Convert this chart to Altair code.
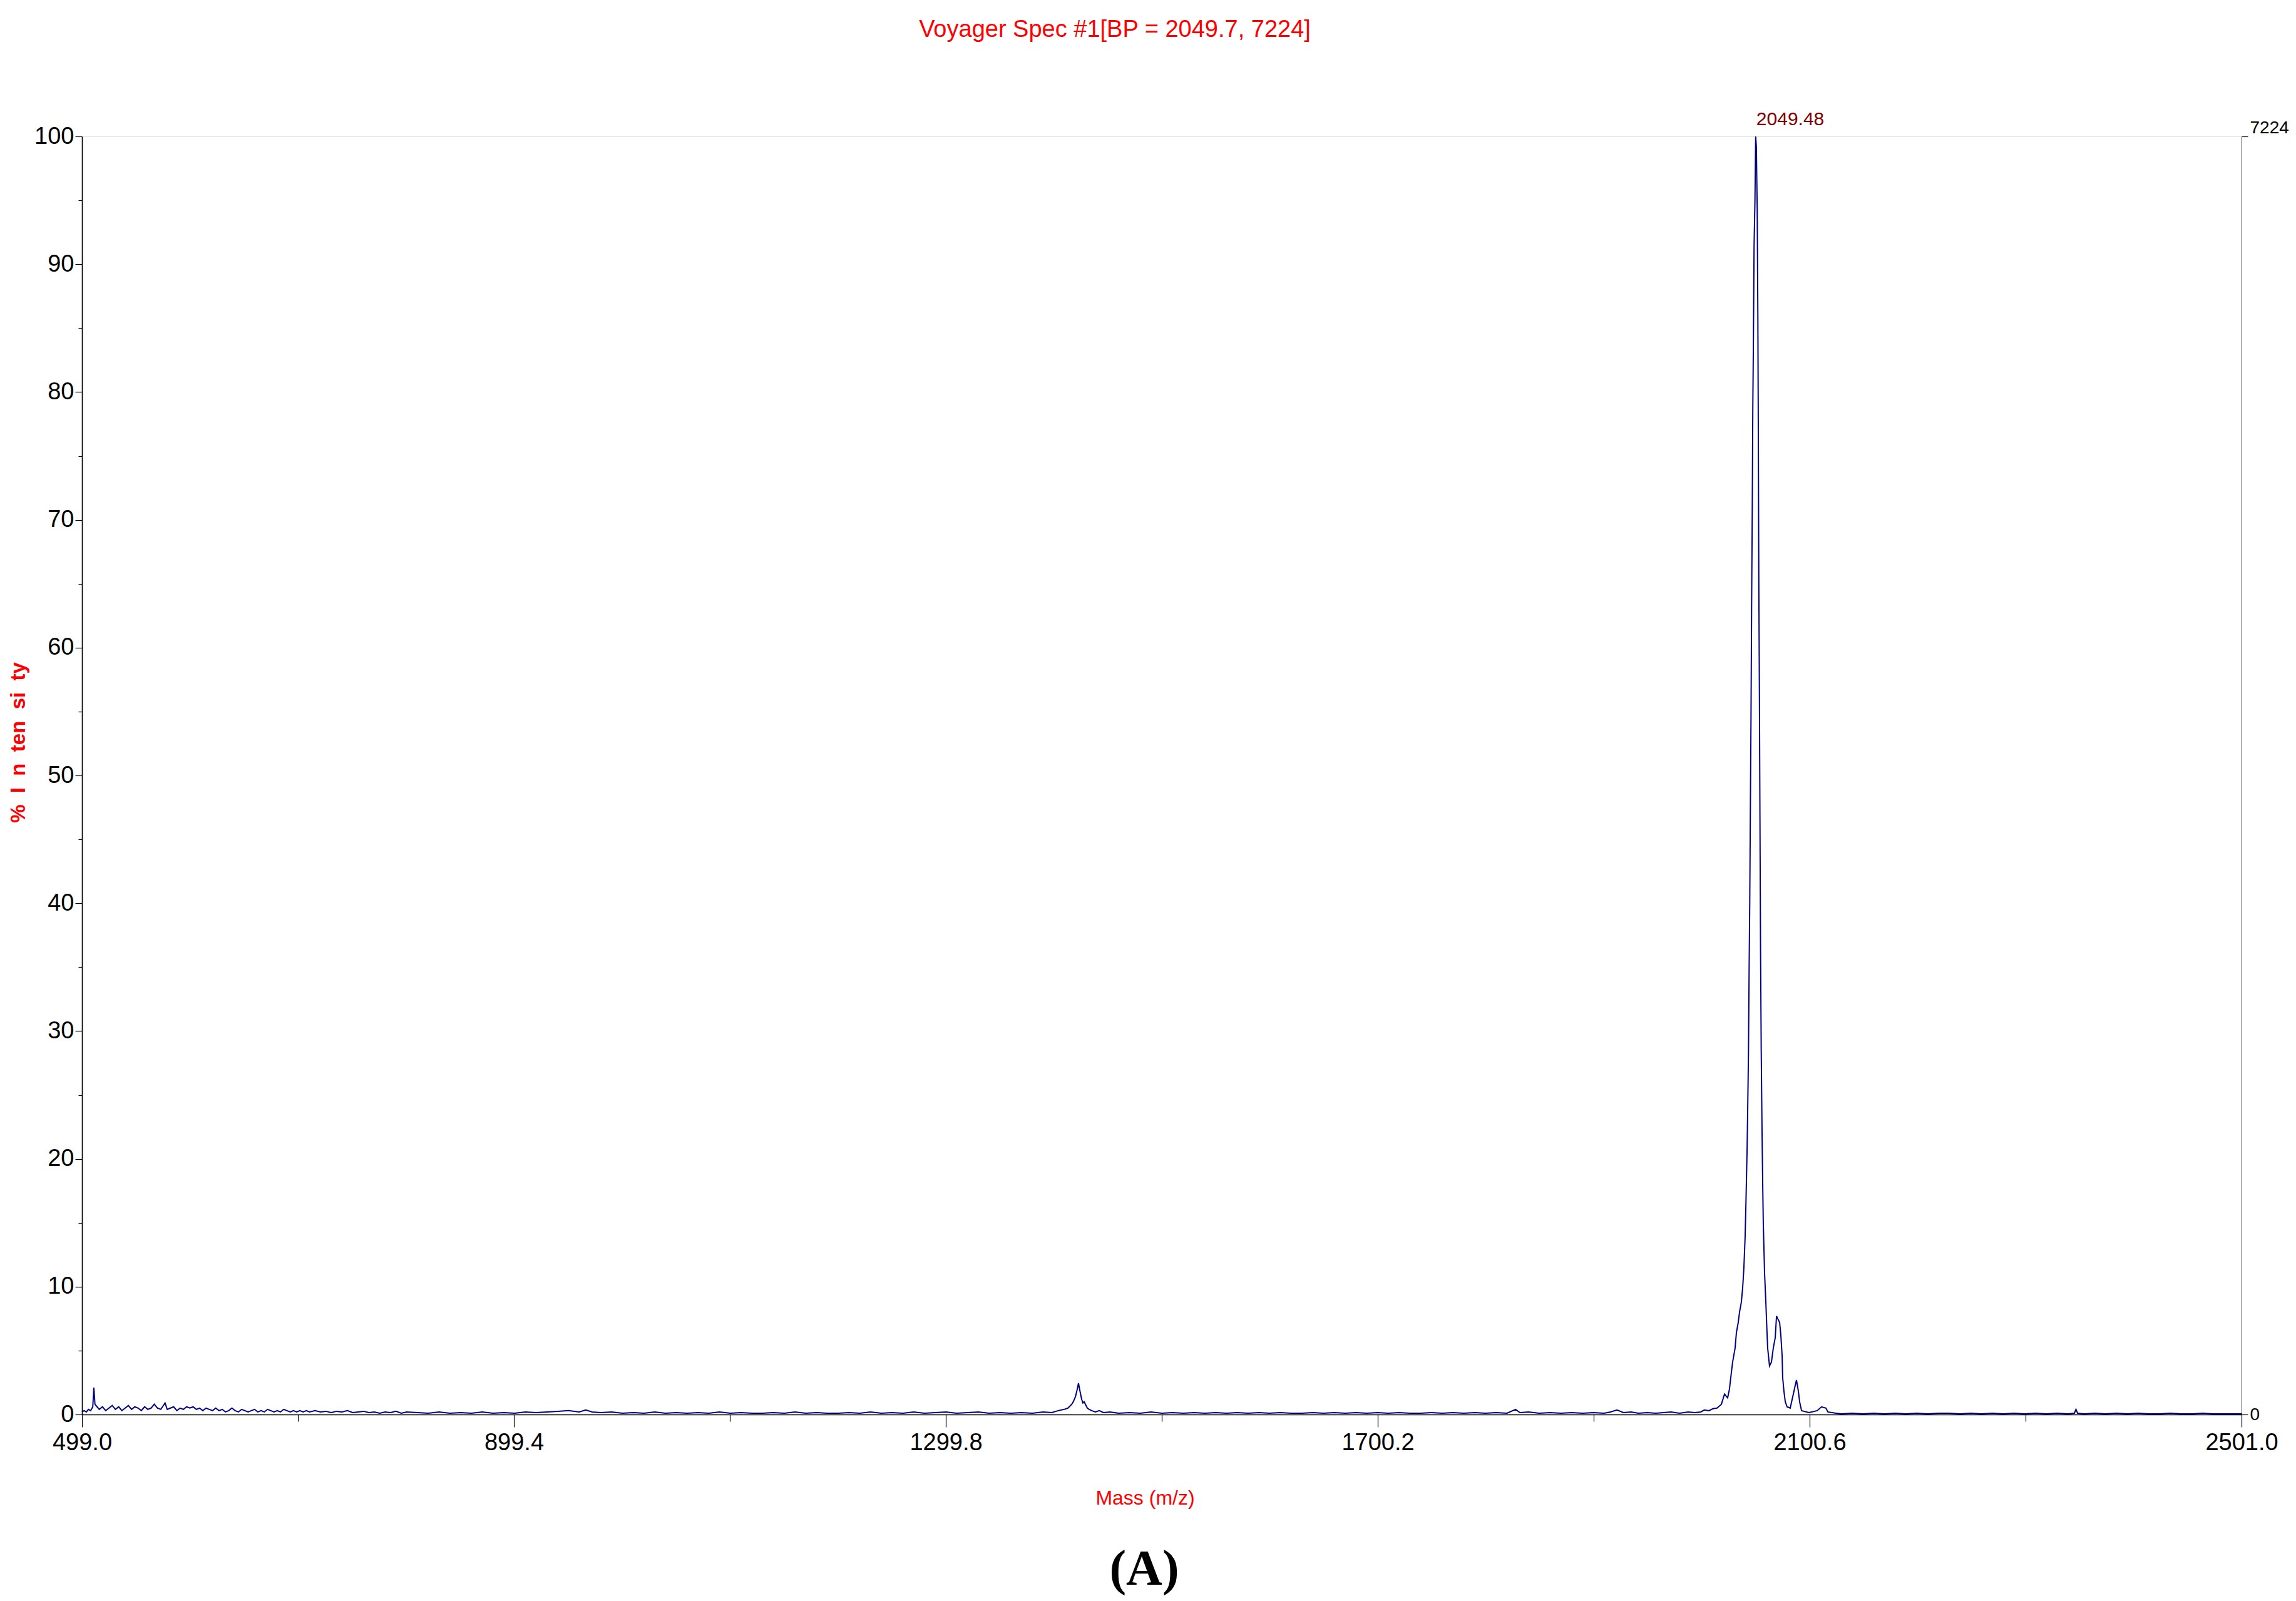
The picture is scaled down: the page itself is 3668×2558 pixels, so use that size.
import altair as alt
import pandas as pd

# ---------------- text ----------------
title_text = "Voyager Spec #1[BP = 2049.7, 7224]"
x_title = "Mass (m/z)"
y_title = "% \u00a0I \u00a0n \u00a0ten \u00a0si \u00a0ty"
panel_tag = "(A)"

# ---------------- axes ----------------
x_ticks = [499.0, 699.2, 899.4, 1099.6, 1299.8, 1500.0, 1700.2, 1900.4, 2100.6, 2300.8, 2501.0]
y_ticks = [0, 5, 10, 15, 20, 25, 30, 35, 40, 45, 50, 55, 60, 65, 70, 75, 80, 85, 90, 95, 100]
count_ticks = [0, 7224]

# ---------------- base peak ----------------
base_peak_mass = [2050.6]
base_peak_counts = [7224]
base_peak_label = ["2049.48"]

# ---------------- spectrum (mass, % intensity) ----------------
low_mass_noise = [
    (499.0, 0.2), (501, 0.3), (503, 0.2), (505, 0.4), (507, 0.3), (509, 0.6), (510, 2.1), (511, 0.8),
    (513, 0.6), (515, 0.4), (518, 0.6), (521, 0.3), (524, 0.5), (527, 0.7), (530, 0.4), (533, 0.6),
    (536, 0.3), (539, 0.5), (542, 0.7), (545, 0.4), (548, 0.6), (551, 0.5), (554, 0.3), (557, 0.6),
    (560, 0.4), (563, 0.5), (566, 0.8), (569, 0.5), (572, 0.4), (576, 0.9), (578, 0.4), (581, 0.5),
    (584, 0.6), (587, 0.3), (590, 0.5), (593, 0.4), (596, 0.6), (599, 0.5), (602, 0.6), (605, 0.4),
    (608, 0.5), (611, 0.3), (614, 0.5), (617, 0.4), (620, 0.3), (623, 0.5), (626, 0.3), (629, 0.4),
    (632, 0.2), (635, 0.3), (638, 0.5), (641, 0.3), (644, 0.2), (647, 0.4), (650, 0.3), (653, 0.2),
    (656, 0.3), (659, 0.4), (662, 0.2), (665, 0.3), (668, 0.2), (671, 0.4), (674, 0.3), (677, 0.2),
    (680, 0.3), (683, 0.2), (686, 0.4), (689, 0.3), (692, 0.2), (695, 0.3), (698, 0.2), (701, 0.3),
    (704, 0.2), (707, 0.3), (710, 0.2), (715, 0.3), (720, 0.2), (725, 0.25), (730, 0.15), (735, 0.25),
    (740, 0.2), (745, 0.3), (750, 0.15), (755, 0.2), (760, 0.25), (765, 0.15), (770, 0.2), (775, 0.1),
    (780, 0.2), (785, 0.15), (790, 0.25), (795, 0.1), (800, 0.2),
]

middle_noise_1 = [
    (810, 0.15), (820, 0.1), (830, 0.2), (840, 0.1), (850, 0.15), (860, 0.1), (870, 0.2), (880, 0.1),
    (890, 0.15), (900, 0.1), (910, 0.2), (920, 0.15), (930, 0.2), (940, 0.25), (950, 0.3), (960, 0.2),
    (966, 0.35), (972, 0.2), (980, 0.15), (990, 0.2), (1000, 0.1), (1010, 0.15), (1020, 0.1), (1030, 0.2),
    (1040, 0.1), (1050, 0.15), (1060, 0.1), (1070, 0.15), (1080, 0.1), (1090, 0.2), (1100, 0.1), (1110, 0.15),
    (1120, 0.1), (1130, 0.1), (1140, 0.15), (1150, 0.1), (1160, 0.2), (1170, 0.1), (1180, 0.15), (1190, 0.1),
    (1200, 0.1), (1210, 0.15), (1220, 0.1), (1230, 0.2), (1240, 0.1), (1250, 0.15), (1260, 0.1), (1270, 0.2),
    (1280, 0.1), (1290, 0.15), (1300, 0.2), (1310, 0.1), (1320, 0.15), (1330, 0.2), (1340, 0.1), (1350, 0.15),
    (1360, 0.1), (1370, 0.15), (1380, 0.1), (1390, 0.2), (1398, 0.15),
]

peak_1423 = [
    (1404, 0.3), (1409.5, 0.4), (1413, 0.5), (1416.5, 0.8), (1418, 1.0), (1420.0, 1.4), (1421.7, 2.0),
    (1422.8, 2.45), (1424.0, 1.9), (1425.7, 1.2), (1426.9, 0.9), (1428, 1.0), (1429.8, 0.7), (1431, 0.5),
    (1432.7, 0.4), (1435, 0.3), (1438.5, 0.2), (1442, 0.3), (1446, 0.15),
]

middle_noise_2 = [
    (1452, 0.2), (1460, 0.1), (1470, 0.15), (1480, 0.1), (1490, 0.2), (1500, 0.1), (1510, 0.15), (1520, 0.1),
    (1530, 0.15), (1540, 0.1), (1550, 0.15), (1560, 0.1), (1570, 0.15), (1580, 0.1), (1590, 0.15), (1600, 0.1),
    (1610, 0.15), (1620, 0.1), (1630, 0.1), (1640, 0.15), (1650, 0.1), (1660, 0.15), (1670, 0.1), (1680, 0.15),
    (1690, 0.1), (1700, 0.15), (1710, 0.1), (1720, 0.15), (1730, 0.1), (1740, 0.1), (1750, 0.15), (1760, 0.1),
    (1770, 0.15), (1780, 0.1), (1790, 0.15), (1800, 0.1), (1810, 0.15), (1820, 0.1), (1828, 0.4), (1832, 0.15),
    (1840, 0.2), (1850, 0.1), (1860, 0.15), (1870, 0.1), (1880, 0.15), (1890, 0.1), (1900, 0.15), (1910, 0.1),
    (1916, 0.2), (1922, 0.35), (1928, 0.15), (1935, 0.2), (1942, 0.1), (1950, 0.15), (1958, 0.1), (1965, 0.15),
    (1972, 0.2), (1980, 0.1), (1988, 0.2), (1994, 0.15),
]

main_cluster = [
    (1999.6, 0.2), (2003, 0.35), (2007.2, 0.3), (2011, 0.45), (2014.7, 0.5), (2018.8, 0.8), (2021.7, 1.6),
    (2024.6, 1.3), (2026.3, 2.0), (2027.5, 2.9), (2029.2, 4.1), (2031.5, 5.2), (2032.7, 6.4), (2034.4, 7.2),
    (2035.6, 8.0), (2037.3, 8.8), (2038.5, 9.9), (2039.6, 11.4), (2040.8, 13.9), (2041.6, 16.7),
    (2042.6, 20.6), (2043.3, 24.5), (2043.9, 28.3), (2044.5, 34.9), (2045.1, 40.2), (2045.6, 46.7),
    (2046.2, 53.9), (2046.8, 63.0), (2047.4, 70.7), (2047.9, 78.4), (2048.5, 84.4), (2049.1, 91.5),
    (2049.9, 94.9), (2050.6, 100.0), (2051.2, 99.2), (2052.0, 94.3), (2052.6, 86.0), (2053.1, 75.0),
    (2053.5, 64.9), (2054.1, 55.2), (2054.7, 43.7), (2055.1, 36.3), (2055.7, 28.6), (2056.5, 22.0),
    (2057.0, 18.7), (2057.6, 15.1), (2058.8, 11.1), (2059.9, 9.0), (2060.5, 7.7), (2061.1, 6.4),
    (2061.7, 5.2), (2063.4, 3.8), (2065.2, 4.1), (2066.9, 5.2), (2068.7, 6.0), (2069.9, 7.7), (2071.0, 7.5),
    (2072.8, 7.2), (2073.9, 6.2), (2075.1, 4.6), (2075.6, 2.9), (2076.8, 1.8), (2078.0, 1.0), (2079.7, 0.6),
    (2082.6, 0.5), (2085.5, 1.6), (2087.3, 2.3), (2088.4, 2.7), (2090.2, 1.8), (2091.3, 1.0), (2093.1, 0.3),
    (2100.0, 0.15), (2107.6, 0.3), (2111.6, 0.6), (2115.7, 0.5), (2117.5, 0.2), (2125.0, 0.1),
]

high_mass_noise = [
    (2130, 0.05), (2140, 0.1), (2150, 0.05), (2160, 0.1), (2170, 0.05), (2180, 0.1), (2190, 0.05),
    (2200, 0.1), (2210, 0.05), (2220, 0.1), (2230, 0.1), (2240, 0.05), (2250, 0.1), (2260, 0.05),
    (2270, 0.1), (2280, 0.05), (2290, 0.1), (2300, 0.05), (2310, 0.1), (2320, 0.05), (2330, 0.1),
    (2340, 0.05), (2346, 0.1), (2347.5, 0.4), (2349, 0.1), (2355, 0.05), (2365, 0.1), (2375, 0.05),
    (2385, 0.1), (2395, 0.05), (2405, 0.1), (2415, 0.05), (2425, 0.05), (2435, 0.1), (2445, 0.05),
    (2455, 0.05), (2465, 0.1), (2475, 0.05), (2485, 0.05), (2495, 0.05), (2501.0, 0.05),
]

points = low_mass_noise + middle_noise_1 + peak_1423 + middle_noise_2 + main_cluster + high_mass_noise
spectrum = pd.DataFrame(points, columns=["mass", "intensity"]).sort_values("mass")

peak_df = pd.DataFrame({"mass": base_peak_mass, "counts": base_peak_counts, "label": base_peak_label})
tag_df = pd.DataFrame({"tag": [panel_tag]})

SANS = "Liberation Sans"

x_axis = alt.Axis(
    values=x_ticks, format=".1f", title=x_title, grid=False,
    labelExpr="round(datum.index * 10) % 2 === 0 ? datum.label : ''",
    tickSize={"condition": {"test": "round(datum.index * 10) % 2 === 0", "value": 20}, "value": 11},
    tickColor="black", tickWidth=1.2, domainColor="black", domainWidth=1.6,
    labelFont=SANS, labelFontSize=38, labelColor="black", labelPadding=6,
    labelFlush=False, labelOverlap=False,
    titleFont=SANS, titleFontSize=32, titleColor="#FF0000", titleFontWeight="normal",
    titleX=1698, titleY=133, titleBaseline="middle", titleAlign="center", titleAnchor="start",
)

y_axis = alt.Axis(
    values=y_ticks, title=y_title, grid=False,
    labelExpr="datum.value % 10 === 0 ? datum.label : ''",
    tickSize={"condition": {"test": "datum.value % 10 === 0", "value": 11}, "value": 6},
    tickColor="black", tickWidth=1.2, domainColor="black", domainWidth=1.6,
    labelFont=SANS, labelFontSize=38, labelColor="black", labelPadding=2,
    labelFlush=False, labelOverlap=False, labelBaseline="middle",
    titleFont=SANS, titleFontSize=33, titleFontWeight="bold", titleColor="#FF0000",
    titleAngle=270, titleX=-102, titleY=968, titleBaseline="middle", titleAlign="center", titleAnchor="start",
)

count_axis = alt.Axis(
    orient="right", values=count_ticks, title=None, grid=False, format="d",
    tickSize=10, tickColor="black", tickWidth=1.2, domainColor="#444444", domainWidth=1,
    labelFont=SANS, labelFontSize=28, labelColor="black", labelPadding=3,
    labelFlush=False, labelOverlap=False,
    labelBaseline={"condition": {"test": "datum.value > 0", "value": "bottom"}, "value": "middle"},
)

line = alt.Chart(spectrum).mark_line(color="#000080", strokeWidth=2).encode(
    x=alt.X("mass:Q", scale=alt.Scale(domain=[499.0, 2501.0], nice=False, zero=False), axis=x_axis),
    y=alt.Y("intensity:Q", scale=alt.Scale(domain=[0, 100], nice=False), axis=y_axis),
)

peak_label = alt.Chart(peak_df).mark_text(
    color="#800000", font=SANS, fontSize=30, align="left", baseline="bottom", dx=1, dy=-12
).encode(
    x=alt.X("mass:Q"),
    y=alt.Y("counts:Q", scale=alt.Scale(domain=[0, 7224], nice=False), axis=count_axis),
    text="label:N",
)

tag = alt.Chart(tag_df).mark_text(
    font="Liberation Serif", fontSize=80, fontWeight="bold", color="black", align="center", baseline="middle"
).encode(
    x=alt.value(1697), y=alt.value(2290), text="tag:N"
)

chart = alt.layer(line, peak_label, tag).resolve_scale(y="independent").properties(
    width=3450, height=2042,
    autosize=alt.AutoSizeParams(type="none"),
    padding={"left": 123, "top": 210, "right": 79, "bottom": 290},
    title=alt.TitleParams(
        text=title_text, color="#FF0000", font=SANS, fontSize=38, fontWeight="normal",
        anchor="middle", frame="group", dx=-75, offset=109,
    ),
).configure_view(stroke=None).configure(background="white")

chart.save("out.html", embed_options={"renderer": "svg", "actions": False})
